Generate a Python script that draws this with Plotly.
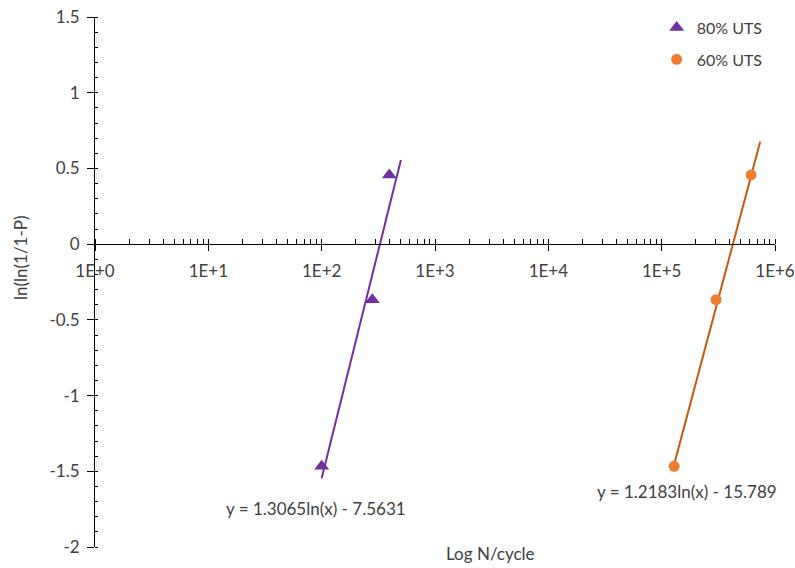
import numpy as np
import plotly.graph_objects as go

# ---- data ----
uts80_cycles = [100, 280, 395]
uts80_lnln = [-1.467, -0.367, 0.457]
uts60_cycles = [128800, 302000, 615000]
uts60_lnln = [-1.467, -0.367, 0.457]

# trendline coefficients as shown on the chart: y = a*ln(x) + b
fit80_a, fit80_b = 1.3065, -7.5631
fit60_a, fit60_b = 1.2183, -15.789
fit80_range = [100, 500]
fit60_range = [128800, 740000]

x_tickvals = [1, 10, 100, 1000, 10000, 100000, 1000000]
x_ticktext = ["1E+0", "1E+1", "1E+2", "1E+3", "1E+4", "1E+5", "1E+6"]
y_tickvals = [1.5, 1, 0.5, 0, -0.5, -1, -1.5, -2]
y_ticktext = ["1.5", "1", "0.5", "0", "-0.5", "-1", "-1.5", "-2"]

eq80 = "y = 1.3065ln(x) - 7.5631"
eq60 = "y = 1.2183ln(x) - 15.789"

PURPLE = "#7030A0"
ORANGE = "#ED7D31"
ORANGE_LINE = "#C55A11"
TXT = "#404040"
FONT = "Lato, Open Sans, sans-serif"

fig = go.Figure()

x80 = np.geomspace(fit80_range[0], fit80_range[1], 50)
fig.add_trace(go.Scatter(x=x80, y=fit80_a * np.log(x80) + fit80_b, mode="lines",
                         line=dict(color=PURPLE, width=2), showlegend=False, hoverinfo="skip"))
x60 = np.geomspace(fit60_range[0], fit60_range[1], 50)
fig.add_trace(go.Scatter(x=x60, y=fit60_a * np.log(x60) + fit60_b, mode="lines",
                         line=dict(color=ORANGE_LINE, width=2), showlegend=False, hoverinfo="skip"))

fig.add_trace(go.Scatter(x=uts80_cycles, y=uts80_lnln, mode="markers", name="80% UTS",
                         legendgroup="a",
                         marker=dict(symbol="triangle-up", size=13, color=PURPLE)))
fig.add_trace(go.Scatter(x=uts60_cycles, y=uts60_lnln, mode="markers", name="60% UTS",
                         legendgroup="b",
                         marker=dict(symbol="circle", size=11, color=ORANGE)))

# invisible trace to carry the crossing part of the major x ticks
fig.add_trace(go.Scatter(x=[1, 1000000], y=[None, None], xaxis="x2", yaxis="y",
                         mode="markers", showlegend=False, hoverinfo="skip"))

fig.update_layout(
    width=795, height=568, autosize=False,
    margin=dict(l=95, r=20, t=17, b=21, autoexpand=False),
    paper_bgcolor="white", plot_bgcolor="white",
    font=dict(family=FONT, size=16, color=TXT),
    xaxis=dict(type="log", range=[0, 6], showgrid=False, zeroline=False,
               anchor="free", position=2 / 3.5, automargin=False,
               showline=True, linecolor="black", linewidth=1,
               tickvals=x_tickvals, ticktext=x_ticktext,
               ticks="outside", ticklen=6, tickcolor="black",
               ticklabelstandoff=5,
               minor=dict(ticks="inside", ticklen=5, dtick="D1", tickcolor="black", showgrid=False),
               tickfont=dict(size=17, color=TXT)),
    xaxis2=dict(type="log", range=[0, 6], overlaying="x", anchor="free", position=2 / 3.5,
                automargin=False, showgrid=False, zeroline=False, showline=False,
                tickvals=x_tickvals, showticklabels=False,
                ticks="inside", ticklen=5, tickcolor="black"),
    yaxis=dict(range=[-2, 1.5], showgrid=False, zeroline=False, automargin=False,
               showline=True, linecolor="black", linewidth=1,
               tickvals=y_tickvals, ticktext=y_ticktext,
               ticks="outside", ticklen=7, tickcolor="black",
               ticklabelstandoff=4,
               minor=dict(ticks="inside", ticklen=3, dtick=0.1, tickcolor="black", showgrid=False),
               tickfont=dict(size=17, color=TXT)),
    legend=dict(x=0.826, y=1.012, xanchor="left", yanchor="top",
                font=dict(size=16, color=TXT), bgcolor="rgba(0,0,0,0)",
                tracegroupgap=8, itemwidth=30),
    showlegend=True,
)

fig.add_annotation(text=eq80, x=1.95, y=-1.748, xref="x", yref="y", showarrow=False,
                   font=dict(size=17, color=TXT))
fig.add_annotation(text=eq60, x=5.224, y=-1.635, xref="x", yref="y", showarrow=False,
                   font=dict(size=17, color=TXT))
fig.add_annotation(text="Log N/cycle", x=(490 - 95) / 680, y=-(553 - 547) / 530,
                   xref="paper", yref="paper",
                   xanchor="center", yanchor="middle", showarrow=False,
                   font=dict(size=17, color=TXT))
fig.add_annotation(text="ln(ln(1/1-P)", x=-(95 - 20) / 680, y=(547 - 258) / 530,
                   xref="paper", yref="paper",
                   xanchor="center", yanchor="middle", textangle=-90, showarrow=False,
                   font=dict(size=17, color=TXT))

fig.write_html("out.html", config={"displayModeBar": False},
               post_script="document.body.style.margin='0';")
